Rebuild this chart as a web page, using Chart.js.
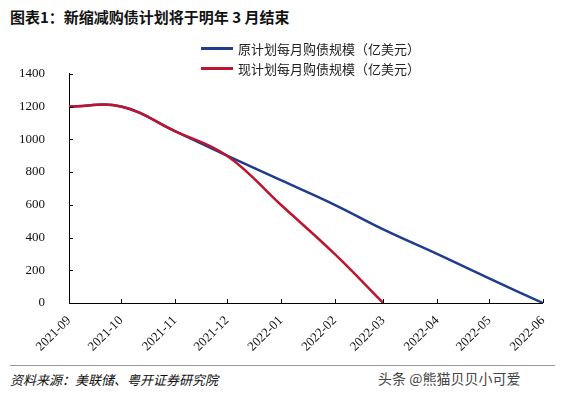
<!DOCTYPE html>
<html>
<head>
<meta charset="utf-8">
<script src="https://cdn.jsdelivr.net/npm/chart.js@4"></script>
<style>
  body { margin: 0; background: #fff; width: 563px; height: 393px; overflow: hidden; position: relative; font-family: "Noto Sans CJK SC", sans-serif; }
  #title { position: absolute; left: 10px; top: 6px; font-size: 15px; font-weight: bold; color: #111; }
  #chartBox { position: absolute; left: 0; top: 50px; width: 556px; height: 305px; }
  .leg { position: absolute; left: 201px; font-size: 13px; color: #222; display: flex; align-items: center; }
  .leg span { display: inline-block; width: 32px; height: 3px; margin-right: 5px; }
  #rule { position: absolute; left: 10px; right: 8px; top: 365px; border-top: 1px solid #999; }
  #source { position: absolute; left: 10px; top: 370px; font-size: 13px; font-style: italic; color: #111; }
  #mark { position: absolute; left: 378px; top: 368px; font-size: 14px; color: #444; }
</style>
</head>
<body>
<div id="title">图表1：新缩减购债计划将于明年 3 月结束</div>
<div id="chartBox"><canvas id="taperChart"></canvas></div>
<div class="leg" style="top:39px"><span style="background:#1f3d8c"></span>原计划每月购债规模（亿美元）</div>
<div class="leg" style="top:59px"><span style="background:#c0142e"></span>现计划每月购债规模（亿美元）</div>
<div id="rule"></div>
<div id="source">资料来源：美联储、粤开证券研究院</div>
<div id="mark">头条 @熊猫贝贝小可爱</div>
<script>
const months = ["2021-09", "2021-10", "2021-11", "2021-12", "2022-01", "2022-02", "2022-03", "2022-04", "2022-05", "2022-06"];
const originalPlan = [1200, 1200, 1050, 900, 750, 600, 450, 300, 150, 0];
const currentPlan = [1200, 1200, 1050, 900, 600, 300, 0];
const yTicks = [0, 200, 400, 600, 800, 1000, 1200, 1400];

// days since first month, so month spacing follows the calendar
const start = Date.UTC(2021, 8, 1);
const dayOffsets = months.map(m => {
  const [y, mo] = m.split("-").map(Number);
  return (Date.UTC(y, mo - 1, 1) - start) / 86400000;
});
const toPoints = vals => vals.map((v, i) => ({ x: dayOffsets[i], y: v }));

// short tick marks pointing into the plot
const innerTicks = {
  id: "innerTicks",
  afterDraw(chart) {
    const { ctx, chartArea, scales } = chart;
    ctx.save();
    ctx.strokeStyle = "#000";
    ctx.lineWidth = 1;
    scales.y.ticks.forEach(t => {
      const py = Math.round(scales.y.getPixelForValue(t.value)) + 0.5;
      ctx.beginPath();
      ctx.moveTo(chartArea.left, py);
      ctx.lineTo(chartArea.left + 4, py);
      ctx.stroke();
    });
    scales.x.ticks.forEach(t => {
      const px = Math.round(scales.x.getPixelForValue(t.value)) + 0.5;
      ctx.beginPath();
      ctx.moveTo(px, chartArea.bottom);
      ctx.lineTo(px, chartArea.bottom - 4);
      ctx.stroke();
    });
    ctx.restore();
  }
};

new Chart(document.getElementById("taperChart"), {
  type: "line",
  data: {
    datasets: [
      {
        label: "现计划每月购债规模（亿美元）",
        data: toPoints(currentPlan),
        borderColor: "#c0142e",
        borderWidth: 2.5,
        pointRadius: 0,
        tension: 0.4,
        fill: false,
      },
      {
        label: "原计划每月购债规模（亿美元）",
        data: toPoints(originalPlan),
        borderColor: "#1f3d8c",
        borderWidth: 2.5,
        pointRadius: 0,
        tension: 0.4,
        fill: false,
      },
    ],
  },
  options: {
    responsive: true,
    maintainAspectRatio: false,
    animation: false,
    layout: { padding: { top: 7, right: 13, left: 0, bottom: 0 } },
    plugins: {
      legend: { display: false },
      tooltip: { enabled: false },
    },
    scales: {
      x: {
        type: "linear",
        min: dayOffsets[0],
        max: dayOffsets[dayOffsets.length - 1],
        afterBuildTicks: scale => { scale.ticks = dayOffsets.map(v => ({ value: v })); },
        afterFit: scale => { scale.height = 52; },
        grid: { display: false },
        border: { display: true, color: "#000", width: 1 },
        ticks: {
          autoSkip: false,
          minRotation: 45,
          maxRotation: 45,
          padding: 2,
          color: "#111",
          font: { family: "Liberation Serif", size: 13 },
          callback: (v, i) => months[i],
        },
      },
      y: {
        min: 0,
        max: 1400,
        afterBuildTicks: scale => { scale.ticks = yTicks.map(v => ({ value: v })); },
        afterFit: scale => { scale.width = 69; },
        grid: { display: false },
        border: { display: true, color: "#000", width: 1 },
        ticks: {
          padding: 16,
          color: "#111",
          font: { family: "Liberation Serif", size: 13 },
          callback: v => String(v),
        },
      },
    },
  },
  plugins: [innerTicks],
});
</script>
</body>
</html>
